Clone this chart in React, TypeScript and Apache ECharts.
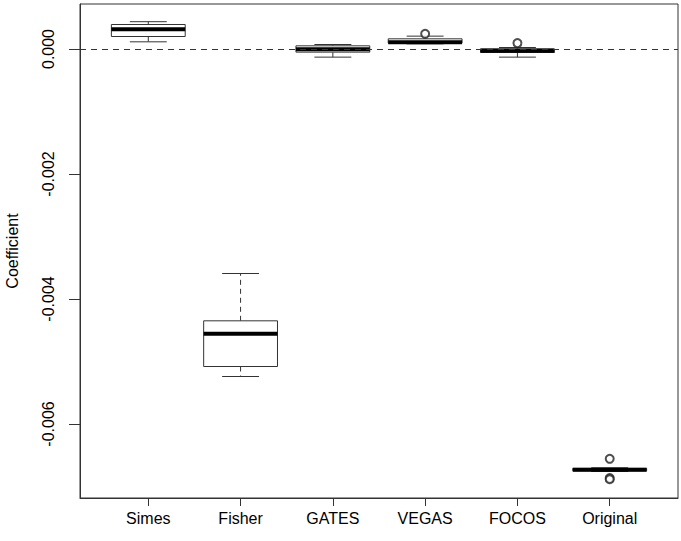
import React, { useEffect, useRef } from "react";
import * as echarts from "echarts";

const categories = ["Simes", "Fisher", "GATES", "VEGAS", "FOCOS", "Original"];
const lowerWhisker = [0.000115, -0.00524, -0.00013, 0.000083, -0.00013, -0.00676];
const q1 = [0.0002, -0.00508, -0.00005, 0.000094, -0.000056, -0.00675];
const medians = [0.000318, -0.004557, -0.000002, 0.00011, -0.000026, -0.006733];
const q3 = [0.000392, -0.004349, 0.000051, 0.000163, 0.000003, -0.00671];
const upperWhisker = [0.000437, -0.003592, 0.000072, 0.000206, 0.000024, -0.0067];
const outlierCategory = [4, 5, 6, 6, 6];
const outlierValue = [0.000243, 0.000094, -0.006557, -0.006866, -0.006884];
const yTicks = [-0.006, -0.004, -0.002, 0];

const FONT = "'Liberation Sans', Arial, Helvetica, sans-serif";
const LINE = "#333333";

export default function App() {
  const ref = useRef<HTMLDivElement>(null);
  useEffect(() => {
    if (!ref.current) return;
    const chart = echarts.init(ref.current, undefined, { renderer: "svg" });
    const boxData = categories.map((_, i) => [
      i + 1,
      lowerWhisker[i],
      q1[i],
      medians[i],
      q3[i],
      upperWhisker[i],
    ]);
    const outData = outlierCategory.map((c, i) => [c, outlierValue[i]]);
    const option: any = {
      animation: false,
      backgroundColor: "#ffffff",
      grid: {
        left: 80,
        top: 4,
        width: 598,
        height: 494,
        show: true,
        borderColor: LINE,
        borderWidth: 1,
        backgroundColor: "transparent",
        containLabel: false,
        outerBoundsMode: "none",
      },
      xAxis: {
        type: "value",
        min: 0.26,
        max: 6.74,
        splitLine: { show: false },
        axisLine: { show: true, onZero: false, lineStyle: { color: LINE } },
        axisTick: {
          show: true,
          customValues: [1, 2, 3, 4, 5, 6],
          length: 8,
          lineStyle: { color: LINE },
        },
        axisLabel: {
          customValues: [1, 2, 3, 4, 5, 6],
          formatter: (v: number) => categories[Math.round(v) - 1] ?? "",
          fontFamily: FONT,
          fontSize: 16,
          color: "#000",
          margin: 12,
        },
      },
      yAxis: {
        type: "value",
        min: -0.007184,
        max: 0.00072,
        splitLine: { show: false },
        axisLine: { show: true, onZero: false, lineStyle: { color: LINE } },
        axisTick: {
          show: true,
          customValues: yTicks,
          length: 11,
          lineStyle: { color: LINE },
        },
        axisLabel: {
          customValues: yTicks,
          formatter: (v: number) => v.toFixed(3),
          rotate: 90,
          fontFamily: FONT,
          fontSize: 16,
          color: "#000",
          margin: 24,
        },
        name: "Coefficient",
        nameLocation: "middle",
        nameRotate: 90,
        nameGap: 60,
        nameTextStyle: { fontFamily: FONT, fontSize: 16, color: "#000" },
      },
      series: [
        {
          type: "custom",
          data: boxData,
          renderItem: (params: any, api: any) => {
            const x = api.value(0);
            const lw = api.coord([x, api.value(1)]);
            const b1 = api.coord([x, api.value(2)]);
            const md = api.coord([x, api.value(3)]);
            const b3 = api.coord([x, api.value(4)]);
            const uw = api.coord([x, api.value(5)]);
            const unit = api.size([1, 0])[0];
            const hw = unit * 0.4;
            const cw = unit * 0.2;
            const cx = md[0];
            const lineStyle = { stroke: LINE, lineWidth: 1, fill: null };
            const dash = { stroke: LINE, lineWidth: 1, lineDash: [5, 4] };
            return {
              type: "group",
              children: [
                { type: "line", shape: { x1: cx, y1: b3[1], x2: cx, y2: uw[1] }, style: dash },
                { type: "line", shape: { x1: cx, y1: b1[1], x2: cx, y2: lw[1] }, style: dash },
                { type: "line", shape: { x1: cx - cw, y1: uw[1], x2: cx + cw, y2: uw[1] }, style: lineStyle },
                { type: "line", shape: { x1: cx - cw, y1: lw[1], x2: cx + cw, y2: lw[1] }, style: lineStyle },
                {
                  type: "rect",
                  shape: { x: cx - hw, y: b3[1], width: hw * 2, height: b1[1] - b3[1] },
                  style: { stroke: LINE, lineWidth: 1, fill: "#ffffff" },
                },
                {
                  type: "line",
                  shape: { x1: cx - hw, y1: md[1], x2: cx + hw, y2: md[1] },
                  style: { stroke: "#000000", lineWidth: 4 },
                },
              ],
            };
          },
          markLine: {
            silent: true,
            symbol: "none",
            label: { show: false },
            lineStyle: { color: LINE, type: [6, 5], width: 1 },
            data: [{ yAxis: 0 }],
          },
          z: 2,
        },
        {
          type: "scatter",
          data: outData,
          symbol: "emptyCircle",
          symbolSize: 8,
          itemStyle: { color: "#222", borderColor: "#222", borderWidth: 0.9 },
          z: 3,
        },
      ],
    };
    chart.setOption(option);
    return () => chart.dispose();
  }, []);
  return (
    <div
      ref={ref}
      style={{ position: "fixed", left: 0, top: 0, width: 681, height: 541 }}
    />
  );
}
